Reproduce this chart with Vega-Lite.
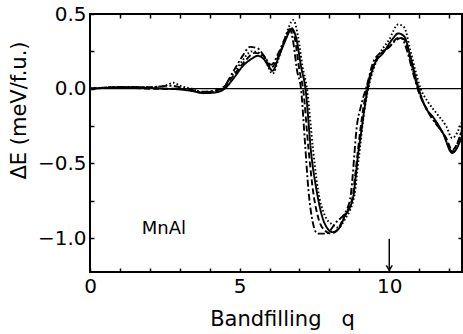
{
  "$schema": "https://vega.github.io/schema/vega-lite/v6.json",
  "width": 372,
  "height": 258,
  "autosize": "none",
  "padding": {"left": 90, "top": 14, "right": 1, "bottom": 62},
  "background": "white",
  "config": {
    "view": {"stroke": "black", "strokeWidth": 2},
    "font": "DejaVu Sans",
    "axis": {"grid": false, "domain": false, "tickColor": "black", "labelColor": "black", "titleColor": "black", "labelFont": "DejaVu Sans", "titleFont": "DejaVu Sans", "titleFontWeight": "normal"}
  },
  "datasets": {
    "curves": [
      {"s": "a", "x": 0, "y": 0}, {"s": "a", "x": 0.5, "y": 0.005}, {"s": "a", "x": 1.0, "y": 0.01}, {"s": "a", "x": 1.5, "y": 0.01}, {"s": "a", "x": 2.0, "y": 0.005}, {"s": "a", "x": 2.5, "y": 0.0}, {"s": "a", "x": 3.0, "y": -0.005}, {"s": "a", "x": 3.4, "y": -0.015}, {"s": "a", "x": 3.8, "y": -0.03}, {"s": "a", "x": 4.2, "y": -0.025}, {"s": "a", "x": 4.5, "y": 0.0}, {"s": "a", "x": 4.8, "y": 0.07}, {"s": "a", "x": 5.1, "y": 0.15}, {"s": "a", "x": 5.4, "y": 0.2}, {"s": "a", "x": 5.6, "y": 0.22}, {"s": "a", "x": 5.8, "y": 0.2}, {"s": "a", "x": 6.0, "y": 0.14}, {"s": "a", "x": 6.1, "y": 0.12}, {"s": "a", "x": 6.3, "y": 0.21}, {"s": "a", "x": 6.5, "y": 0.31}, {"s": "a", "x": 6.75, "y": 0.4}, {"s": "a", "x": 6.9, "y": 0.33}, {"s": "a", "x": 7.05, "y": 0.15}, {"s": "a", "x": 7.2, "y": 0.0}, {"s": "a", "x": 7.4, "y": -0.45}, {"s": "a", "x": 7.57, "y": -0.68}, {"s": "a", "x": 7.75, "y": -0.85}, {"s": "a", "x": 7.95, "y": -0.94}, {"s": "a", "x": 8.1, "y": -0.96}, {"s": "a", "x": 8.3, "y": -0.94}, {"s": "a", "x": 8.5, "y": -0.86}, {"s": "a", "x": 8.8, "y": -0.72}, {"s": "a", "x": 8.87, "y": -0.6}, {"s": "a", "x": 8.97, "y": -0.42}, {"s": "a", "x": 9.07, "y": -0.28}, {"s": "a", "x": 9.18, "y": -0.12}, {"s": "a", "x": 9.3, "y": 0.02}, {"s": "a", "x": 9.5, "y": 0.16}, {"s": "a", "x": 9.8, "y": 0.24}, {"s": "a", "x": 10.1, "y": 0.33}, {"s": "a", "x": 10.3, "y": 0.37}, {"s": "a", "x": 10.5, "y": 0.35}, {"s": "a", "x": 10.7, "y": 0.22}, {"s": "a", "x": 10.9, "y": 0.06}, {"s": "a", "x": 11.0, "y": -0.01}, {"s": "a", "x": 11.2, "y": -0.12}, {"s": "a", "x": 11.5, "y": -0.2}, {"s": "a", "x": 11.8, "y": -0.3}, {"s": "a", "x": 12.1, "y": -0.43}, {"s": "a", "x": 12.43, "y": -0.32},

      {"s": "b", "x": 0, "y": 0}, {"s": "b", "x": 1.0, "y": 0.01}, {"s": "b", "x": 2.0, "y": 0.0}, {"s": "b", "x": 3.0, "y": 0.0}, {"s": "b", "x": 3.8, "y": -0.025}, {"s": "b", "x": 4.4, "y": 0.0}, {"s": "b", "x": 4.8, "y": 0.09}, {"s": "b", "x": 5.2, "y": 0.19}, {"s": "b", "x": 5.5, "y": 0.24}, {"s": "b", "x": 5.8, "y": 0.22}, {"s": "b", "x": 6.05, "y": 0.14}, {"s": "b", "x": 6.3, "y": 0.22}, {"s": "b", "x": 6.5, "y": 0.32}, {"s": "b", "x": 6.72, "y": 0.41}, {"s": "b", "x": 6.85, "y": 0.33}, {"s": "b", "x": 7.0, "y": 0.12}, {"s": "b", "x": 7.12, "y": 0.0}, {"s": "b", "x": 7.3, "y": -0.4}, {"s": "b", "x": 7.45, "y": -0.68}, {"s": "b", "x": 7.65, "y": -0.88}, {"s": "b", "x": 7.85, "y": -0.95}, {"s": "b", "x": 8.05, "y": -0.97}, {"s": "b", "x": 8.25, "y": -0.95}, {"s": "b", "x": 8.5, "y": -0.85}, {"s": "b", "x": 8.78, "y": -0.72}, {"s": "b", "x": 8.85, "y": -0.6}, {"s": "b", "x": 8.95, "y": -0.42}, {"s": "b", "x": 9.03, "y": -0.28}, {"s": "b", "x": 9.14, "y": -0.12}, {"s": "b", "x": 9.27, "y": 0.02}, {"s": "b", "x": 9.5, "y": 0.17}, {"s": "b", "x": 9.8, "y": 0.25}, {"s": "b", "x": 10.0, "y": 0.28}, {"s": "b", "x": 10.3, "y": 0.34}, {"s": "b", "x": 10.5, "y": 0.33}, {"s": "b", "x": 10.7, "y": 0.2}, {"s": "b", "x": 10.9, "y": 0.04}, {"s": "b", "x": 11.0, "y": -0.03}, {"s": "b", "x": 11.3, "y": -0.15}, {"s": "b", "x": 11.6, "y": -0.24}, {"s": "b", "x": 11.9, "y": -0.33}, {"s": "b", "x": 12.1, "y": -0.41}, {"s": "b", "x": 12.43, "y": -0.28},

      {"s": "c", "x": 0, "y": 0}, {"s": "c", "x": 1.0, "y": 0.01}, {"s": "c", "x": 2.0, "y": 0.01}, {"s": "c", "x": 2.7, "y": 0.02}, {"s": "c", "x": 3.2, "y": 0.0}, {"s": "c", "x": 3.8, "y": -0.02}, {"s": "c", "x": 4.4, "y": 0.0}, {"s": "c", "x": 4.8, "y": 0.12}, {"s": "c", "x": 5.1, "y": 0.22}, {"s": "c", "x": 5.35, "y": 0.28}, {"s": "c", "x": 5.6, "y": 0.27}, {"s": "c", "x": 5.85, "y": 0.21}, {"s": "c", "x": 6.05, "y": 0.16}, {"s": "c", "x": 6.3, "y": 0.24}, {"s": "c", "x": 6.5, "y": 0.33}, {"s": "c", "x": 6.68, "y": 0.4}, {"s": "c", "x": 6.8, "y": 0.3}, {"s": "c", "x": 6.92, "y": 0.12}, {"s": "c", "x": 7.05, "y": 0.0}, {"s": "c", "x": 7.18, "y": -0.35}, {"s": "c", "x": 7.3, "y": -0.68}, {"s": "c", "x": 7.45, "y": -0.9}, {"s": "c", "x": 7.6, "y": -0.97}, {"s": "c", "x": 7.9, "y": -0.97}, {"s": "c", "x": 8.2, "y": -0.9}, {"s": "c", "x": 8.6, "y": -0.8}, {"s": "c", "x": 8.72, "y": -0.7}, {"s": "c", "x": 8.77, "y": -0.6}, {"s": "c", "x": 8.83, "y": -0.45}, {"s": "c", "x": 8.9, "y": -0.28}, {"s": "c", "x": 9.05, "y": -0.12}, {"s": "c", "x": 9.25, "y": 0.02}, {"s": "c", "x": 9.45, "y": 0.17}, {"s": "c", "x": 9.7, "y": 0.24}, {"s": "c", "x": 9.95, "y": 0.27}, {"s": "c", "x": 10.2, "y": 0.32}, {"s": "c", "x": 10.4, "y": 0.34}, {"s": "c", "x": 10.6, "y": 0.25}, {"s": "c", "x": 10.8, "y": 0.1}, {"s": "c", "x": 10.95, "y": 0.0}, {"s": "c", "x": 11.2, "y": -0.12}, {"s": "c", "x": 11.5, "y": -0.22}, {"s": "c", "x": 11.8, "y": -0.3}, {"s": "c", "x": 12.1, "y": -0.42}, {"s": "c", "x": 12.43, "y": -0.27},

      {"s": "d", "x": 0, "y": 0}, {"s": "d", "x": 1.0, "y": 0.01}, {"s": "d", "x": 2.0, "y": 0.01}, {"s": "d", "x": 2.5, "y": 0.02}, {"s": "d", "x": 2.8, "y": 0.04}, {"s": "d", "x": 3.0, "y": 0.02}, {"s": "d", "x": 3.4, "y": 0.0}, {"s": "d", "x": 3.8, "y": -0.03}, {"s": "d", "x": 4.2, "y": -0.02}, {"s": "d", "x": 4.5, "y": 0.02}, {"s": "d", "x": 4.8, "y": 0.1}, {"s": "d", "x": 5.1, "y": 0.19}, {"s": "d", "x": 5.4, "y": 0.25}, {"s": "d", "x": 5.65, "y": 0.24}, {"s": "d", "x": 5.9, "y": 0.17}, {"s": "d", "x": 6.1, "y": 0.1}, {"s": "d", "x": 6.3, "y": 0.2}, {"s": "d", "x": 6.5, "y": 0.33}, {"s": "d", "x": 6.8, "y": 0.46}, {"s": "d", "x": 6.95, "y": 0.35}, {"s": "d", "x": 7.1, "y": 0.15}, {"s": "d", "x": 7.25, "y": 0.0}, {"s": "d", "x": 7.45, "y": -0.4}, {"s": "d", "x": 7.62, "y": -0.68}, {"s": "d", "x": 7.85, "y": -0.85}, {"s": "d", "x": 8.1, "y": -0.91}, {"s": "d", "x": 8.3, "y": -0.93}, {"s": "d", "x": 8.5, "y": -0.88}, {"s": "d", "x": 8.85, "y": -0.7}, {"s": "d", "x": 8.93, "y": -0.55}, {"s": "d", "x": 9.03, "y": -0.38}, {"s": "d", "x": 9.12, "y": -0.22}, {"s": "d", "x": 9.22, "y": -0.08}, {"s": "d", "x": 9.32, "y": 0.02}, {"s": "d", "x": 9.6, "y": 0.2}, {"s": "d", "x": 10.0, "y": 0.33}, {"s": "d", "x": 10.3, "y": 0.43}, {"s": "d", "x": 10.5, "y": 0.41}, {"s": "d", "x": 10.7, "y": 0.26}, {"s": "d", "x": 10.9, "y": 0.1}, {"s": "d", "x": 11.05, "y": 0.0}, {"s": "d", "x": 11.3, "y": -0.09}, {"s": "d", "x": 11.6, "y": -0.17}, {"s": "d", "x": 11.9, "y": -0.25}, {"s": "d", "x": 12.1, "y": -0.33}, {"s": "d", "x": 12.43, "y": -0.22}
    ]
  },
  "layer": [
    {
      "data": {"values": [{"y": 0}]},
      "mark": {"type": "rule", "color": "black", "strokeWidth": 1.2},
      "encoding": {
        "y": {"field": "y", "type": "quantitative", "scale": {"domain": [-1.227, 0.5], "nice": false, "zero": false}, "axis": null}
      }
    },
    {
      "data": {"name": "curves"},
      "mark": {"type": "line", "color": "black", "strokeWidth": 1.9, "interpolate": "monotone", "clip": true},
      "encoding": {
        "x": {"field": "x", "type": "quantitative", "scale": {"domain": [0, 12.43], "nice": false, "zero": false},
          "axis": {"orient": "bottom", "values": [0,1,2,3,4,5,6,7,8,9,10,11,12], "labelExpr": "datum.value % 5 === 0 ? datum.label : ''", "tickSize": -4, "tickWidth": 1.5, "labelPadding": 8, "labelFontSize": 20, "title": "Bandfilling\u00a0\u00a0\u00a0q", "titleFontSize": 21, "titlePadding": 12, "titleX": 192, "labelFlush": false}},
        "y": {"field": "y", "type": "quantitative", "scale": {"domain": [-1.227, 0.5], "nice": false, "zero": false},
          "axis": {"orient": "left", "values": [0.5, 0.25, 0, -0.25, -0.5, -0.75, -1.0], "format": ".1f", "labelExpr": "abs(datum.value * 2 - round(datum.value * 2)) < 0.001 ? datum.label : ''", "tickSize": -4, "tickWidth": 1.5, "labelPadding": 8, "labelFontSize": 20, "title": "ΔE (meV/f.u.)", "titleFontSize": 21, "titlePadding": 8, "titleY": 96, "labelFlush": false}},
        "strokeDash": {"field": "s", "type": "nominal", "legend": null,
          "scale": {"domain": ["a", "b", "c", "d"], "range": [[1, 0], [6, 3], [7, 2.5, 2, 2.5], [1.6, 2.2]]}}
      }
    },
    {
      "data": {"values": [{"x": 10, "y": -1.005, "y2": -1.215}]},
      "mark": {"type": "rule", "color": "black", "strokeWidth": 1.5},
      "encoding": {
        "x": {"field": "x", "type": "quantitative", "scale": {"domain": [0, 12.43], "nice": false, "zero": false},
          "axis": {"orient": "top", "values": [1,2,3,4,5,6,7,8,9,10,11,12], "labels": false, "tickSize": -4, "tickWidth": 1.5, "title": null}},
        "y": {"field": "y", "type": "quantitative", "scale": {"domain": [-1.227, 0.5], "nice": false, "zero": false},
          "axis": {"orient": "right", "values": [0.25, -0.25, -0.5, -0.75, -1.0], "labels": false, "tickSize": -4, "tickWidth": 1.5, "title": null}},
        "y2": {"field": "y2"}
      }
    },
    {
      "data": {"values": [{"x": 10, "y": -1.215}]},
      "mark": {"type": "point", "shape": "M-1,-1.6L0,0L1,-1.6", "filled": false, "stroke": "black", "strokeWidth": 1.5, "size": 36, "opacity": 1},
      "encoding": {
        "x": {"field": "x", "type": "quantitative", "scale": {"domain": [0, 12.43], "nice": false, "zero": false}, "axis": null},
        "y": {"field": "y", "type": "quantitative", "scale": {"domain": [-1.227, 0.5], "nice": false, "zero": false}, "axis": null}
      }
    },
    {
      "data": {"values": [{"x": 2.47, "y": -0.94, "label": "MnAl"}]},
      "mark": {"type": "text", "font": "DejaVu Sans", "fontSize": 18, "color": "black", "align": "center", "baseline": "middle"},
      "encoding": {
        "x": {"field": "x", "type": "quantitative", "scale": {"domain": [0, 12.43], "nice": false, "zero": false}, "axis": null},
        "y": {"field": "y", "type": "quantitative", "scale": {"domain": [-1.227, 0.5], "nice": false, "zero": false}, "axis": null},
        "text": {"field": "label"}
      }
    }
  ],
  "resolve": {"axis": {"x": "independent", "y": "independent"}}
}
